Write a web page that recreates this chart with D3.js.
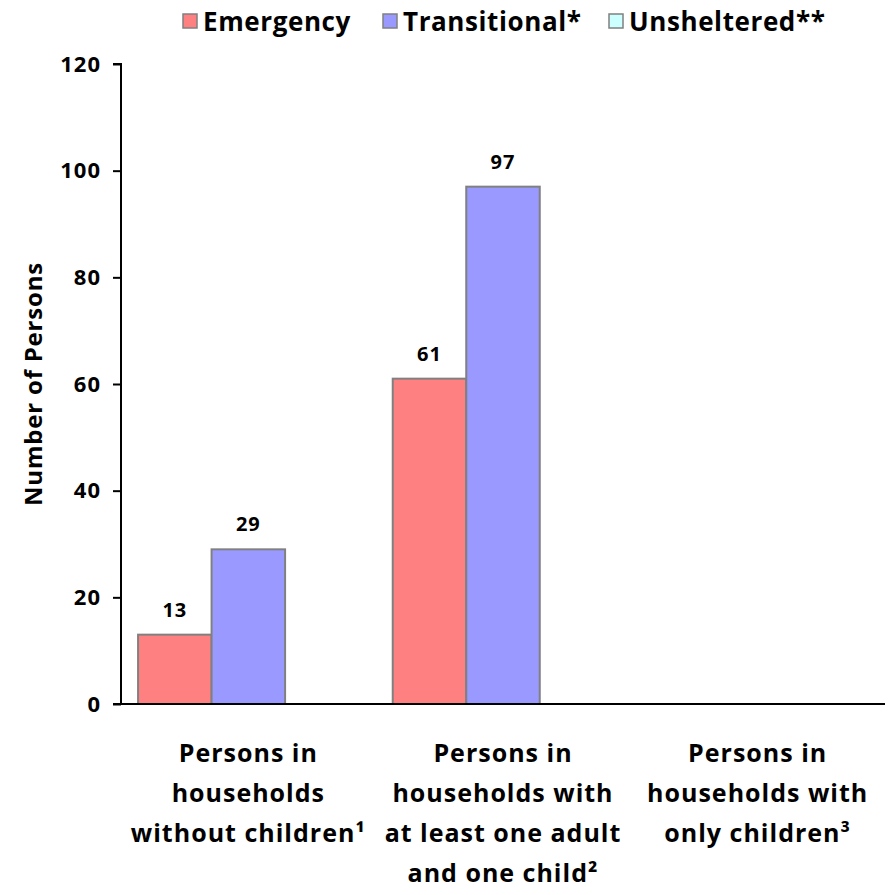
<!DOCTYPE html>
<html>
<head>
<meta charset="utf-8">
<script src="https://cdn.jsdelivr.net/npm/d3@7"></script>
<style>
  body { margin: 0; background: #fff; }
  text { font-family: "Open Sans", sans-serif; font-weight: bold; fill: #000; }
</style>
</head>
<body>
<svg id="chart" width="891" height="895"></svg>
<script>
// Chart data
const categories = [
  ["Persons in", "households", "without children\u00b9"],
  ["Persons in", "households with", "at least one adult", "and one child\u00b2"],
  ["Persons in", "households with", "only children\u00b3"]
];
const series = ["Emergency", "Transitional*", "Unsheltered**"];
const emergency = [13, 61, 0];
const transitional = [29, 97, 0];
const unsheltered = [0, 0, 0];
const yTicks = [0, 20, 40, 60, 80, 100, 120];

const colors = ["#FF8080", "#9999FF", "#CCFFFF"];
const values = [emergency, transitional, unsheltered];

const svg = d3.select("#chart");
const plotLeft = 121, plotRight = 885, plotTop = 64, plotBottom = 704;

let y = d3.scaleLinear().domain([0, 120]).range([plotBottom, plotTop]);
let x0 = d3.scaleBand().domain(d3.range(categories.length)).range([plotLeft, plotRight]).paddingInner(0.134).paddingOuter(0.067);
let x1 = d3.scaleBand().domain(d3.range(series.length)).range([0, x0.bandwidth()]);

// bars
for (let s = 0; s < series.length; s++) {
  svg.append("g").selectAll("rect")
    .data(values[s])
    .join("rect")
    .filter(d => d > 0)
    .attr("x", (d, i) => x0(i) + x1(s))
    .attr("y", d => y(d))
    .attr("width", x1.bandwidth())
    .attr("height", d => plotBottom - y(d))
    .attr("fill", colors[s])
    .attr("stroke", "#808080")
    .attr("stroke-width", 2);

  svg.append("g").selectAll("text")
    .data(values[s])
    .join("text")
    .filter(d => d > 0)
    .attr("x", (d, i) => x0(i) + x1(s) + x1.bandwidth() / 2)
    .attr("y", d => y(d) - 18)
    .attr("text-anchor", "middle")
    .style("font-size", "20px")
    .style("letter-spacing", "1px")
    .text(d => d);
}

// y axis
let yAxis = d3.axisLeft(y).tickValues(yTicks).tickSize(8).tickPadding(12);
let gy = svg.append("g").attr("transform", `translate(${plotLeft},0)`).call(yAxis);
gy.select(".domain").attr("stroke", "#000").attr("stroke-width", 2).attr("d", `M-8,${plotTop}H0V${plotBottom}`);
gy.selectAll(".tick line").attr("stroke", "#000").attr("stroke-width", 2);
gy.selectAll(".tick text")
  .style("font-size", "22px")
  .style("font-family", "'Open Sans', sans-serif")
  .style("font-weight", "bold")
  .style("letter-spacing", "1px")
  .attr("fill", "#000");

// x axis line
svg.append("line")
  .attr("x1", plotLeft - 8).attr("x2", plotRight)
  .attr("y1", plotBottom).attr("y2", plotBottom)
  .attr("stroke", "#000").attr("stroke-width", 2);

// category labels
categories.forEach((lines, i) => {
  let cx = x0(i) + x0.bandwidth() / 2;
  let t = svg.append("text")
    .attr("text-anchor", "middle")
    .attr("x", cx)
    .attr("y", 762)
    .style("font-size", "25px")
    .style("letter-spacing", "1px");
  lines.forEach((l, j) => {
    t.append("tspan").attr("x", cx).attr("dy", j === 0 ? 0 : 40).text(l);
  });
});

// y title
svg.append("text")
  .attr("transform", `translate(42,${(plotTop + plotBottom) / 2}) rotate(-90)`)
  .attr("text-anchor", "middle")
  .style("font-size", "24px")
  .style("letter-spacing", "0.8px")
  .text("Number of Persons");

// legend
const legendX = [183, 383, 609];
series.forEach((name, i) => {
  let g = svg.append("g").attr("transform", `translate(${legendX[i]},14)`);
  g.append("rect").attr("width", 14).attr("height", 14)
    .attr("fill", colors[i]).attr("stroke", "#808080").attr("stroke-width", 1.5);
  g.append("text").attr("x", 20).attr("y", 17).style("font-size", "26px").style("letter-spacing", "0.6px").text(name);
});
</script>
</body>
</html>
